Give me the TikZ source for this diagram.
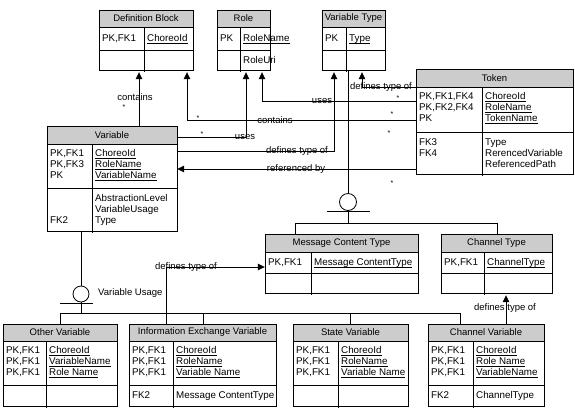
\documentclass[tikz,border=0pt]{standalone}
\usepackage{fontspec}
\setmainfont{Liberation Sans}
\usetikzlibrary{arrows.meta,fit}
\definecolor{hdrgray}{RGB}{204,204,204}
\newcommand\ulx[1]{\setbox0=\hbox{#1}\rlap{\rule[-1.6pt]{\wd0}{0.55pt}}\box0}
% #1 name, #2 x1, #3 y1, #4 x2, #5 yh, #6 yk, #7 y2, #8 xdiv, #9 title
\newcommand\ertable[9]{%
  \coordinate (#1-nw) at (#2,#3);
  \coordinate (#1-se) at (#4,#7);
  \fill[hdrgray] (#2,#3) rectangle (#4,#5);
  \draw[tline] (#2,#3) rectangle (#4,#7);
  \draw[tline] (#2,#5) -- (#4,#5);
  \draw[tline] (#2,#6) -- (#4,#6);
  \draw[tline] (#8,#5) -- (#8,{#7+2});
  \node[fit=(#1-nw)(#1-se), inner sep=0pt] (#1) {};
  \node[ttext] (#1-t) at ({(#2+#4)/2},{(#3+#5)/2}) {#9};
}
\newcommand\tcol[4]{\foreach \cellt [count=\ci from 0] in {#4} {\node[ctext] (#1-\ci) at (#2,{#3+11*\ci}) {\cellt};}}
\begin{document}
\begin{tikzpicture}[x=1pt,y=-1pt,
  tline/.style={line width=0.8pt},
  conn/.style={line width=0.8pt},
  fk/.style={conn,-{Triangle[width=6.5pt,length=7pt]}},
  gap/.style={shorten >=2pt},
  ttext/.style={font=\fontsize{9.5}{11}\selectfont, inner sep=0pt},
  ctext/.style={font=\fontsize{9.8}{11}\selectfont, inner sep=0pt, anchor=base west},
  lbl/.style={ttext},
  star/.style={font=\fontsize{7}{8}\selectfont, inner sep=0pt},
  catc/.style={circle, draw, line width=0.8pt, inner sep=0pt}]
\useasboundingbox (0,0) rectangle (575,408);

% ---- tables
\ertable{dblk}{99}{10}{193}{27}{50}{70}{144}{Definition Block}
\ertable{role}{217}{10}{270}{27}{50}{70}{240}{Role}
\ertable{vtype}{322}{10}{385}{27}{50}{70}{346}{Variable Type}
\ertable{tok}{416}{69}{573}{87}{132}{174}{482}{Token}
\ertable{var}{47}{126}{177}{144}{188}{231}{92}{Variable}
\ertable{mct}{265}{234}{418}{252}{273}{293}{311}{Message Content Type}
\ertable{chtype}{441}{234}{552}{252}{273}{293}{484}{Channel Type}
\ertable{other}{3}{324}{117}{341}{385}{406}{46}{Other Variable}
\ertable{infoex}{129}{324}{276}{341}{385}{406}{173}{Information Exchange Variable}
\ertable{state}{293}{324}{408}{341}{385}{406}{338}{State Variable}
\ertable{chvar}{428}{324}{544}{341}{385}{406}{473}{Channel Variable}

% ---- table texts
\tcol{dblk-k}{102}{41.7}{{PK,FK1}}
\tcol{dblk-a}{147}{41.7}{\ulx{ChoreoId}}
\tcol{role-k}{220}{41.7}{PK}
\tcol{role-a}{243}{41.7}{\ulx{RoleName}}
\tcol{role-b}{243}{63.2}{RoleUri}
\tcol{vtype-k}{325}{41.7}{PK}
\tcol{vtype-a}{349}{41.7}{\ulx{Type}}
\tcol{tok-k}{419}{99.5}{{PK,FK1,FK4},{PK,FK2,FK4},PK}
\tcol{tok-a}{485}{99.5}{\ulx{ChoreoId},\ulx{RoleName},\ulx{TokenName}}
\tcol{tok-k2}{419}{145.5}{FK3,FK4}
\tcol{tok-a2}{485}{145.5}{Type,RerencedVariable,ReferencedPath}
\tcol{var-k}{50}{156.5}{{PK,FK1},{PK,FK3},PK}
\tcol{var-a}{95}{156.5}{\ulx{ChoreoId},\ulx{RoleName},\ulx{VariableName}}
\tcol{var-a2}{95}{201.5}{AbstractionLevel,VariableUsage,Type}
\tcol{var-k2}{50}{223.5}{FK2}
\tcol{mct-k}{268}{265.7}{{PK,FK1}}
\tcol{mct-a}{314}{265.7}{\ulx{Message ContentType}}
\tcol{chtype-k}{444}{265.7}{{PK,FK1}}
\tcol{chtype-a}{487}{265.7}{\ulx{ChannelType}}
\tcol{other-k}{6}{353.5}{{PK,FK1},{PK,FK1},{PK,FK1}}
\tcol{other-a}{49}{353.5}{\ulx{ChoreoId},\ulx{VariableName},\ulx{Role Name}}
\tcol{infoex-k}{132}{353.5}{{PK,FK1},{PK,FK1},{PK,FK1}}
\tcol{infoex-a}{176}{353.5}{\ulx{ChoreoId},\ulx{RoleName},\ulx{Variable Name}}
\tcol{infoex-k2}{132}{398.7}{FK2}
\tcol{infoex-a2}{176}{398.7}{Message ContentType}
\tcol{state-k}{296}{353.5}{{PK,FK1},{PK,FK1},{PK,FK1}}
\tcol{state-a}{341}{353.5}{\ulx{ChoreoId},\ulx{RoleName},\ulx{Variable Name}}
\tcol{chvar-k}{431}{353.5}{{PK,FK1},{PK,FK1},{PK,FK1}}
\tcol{chvar-a}{476}{353.5}{\ulx{ChoreoId},\ulx{Role Name},\ulx{VariableName}}
\tcol{chvar-k2}{431}{398.7}{FK2}
\tcol{chvar-a2}{476}{398.7}{ChannelType}

% ---- relationship connectors
\coordinate (b1) at (139,0);
\draw[fk,gap] (b1 |- var.north) -- (b1 |- dblk.south);
\coordinate (b2) at (187,120);
\draw[fk,gap] (tok.west |- b2) -- (b2) -- (b2 |- dblk.south);
\coordinate (b3) at (246,137);
\draw[fk,gap] (var.east |- b3) -- (b3) -- (b3 |- role.south);
\coordinate (b4) at (262,101);
\draw[fk,gap] (tok.west |- b4) -- (b4) -- (b4 |- role.south);
\coordinate (b5) at (334,151);
\draw[fk,gap] (var.east |- b5) -- (b5) -- (b5 |- vtype.south);
\coordinate (b6) at (362,87);
\draw[fk,gap] (tok.west |- b6) -- (b6) -- (b6 |- vtype.south);
\coordinate (b7) at (0,169);
\draw[fk] (tok.west |- b7) -- (var.east |- b7);
\coordinate (b10) at (166,267);
\draw[fk] (b10 |- infoex.north) -- (b10) -- (mct.west |- b10);
\coordinate (b11) at (506,0);
\draw[fk,gap] (b11 |- chvar.north) -- (b11 |- chtype.south);

% ---- category (subtype) 1
\node[catc, minimum size=17pt] (cat1) at (348,202) {};
\draw[conn] (cat1 |- vtype.south) -- (cat1.north);
\coordinate (bar1l) at (327,211);
\coordinate (bar1r) at (370,211);
\draw[conn] (bar1l) -- (bar1r);
\coordinate (h1) at (348,223);
\draw[conn] (cat1.south) -- (h1);
\coordinate (h1l) at (295,223);
\coordinate (h1r) at (497,223);
\draw[conn] (h1l) -- (h1r);
\draw[conn] (h1l) -- (h1l |- mct.north);
\draw[conn] (h1r) -- (h1r |- chtype.north);

% ---- category (subtype) 2
\node[catc, minimum size=16pt] (cat2) at (81,294) {};
\draw[conn] (cat2 |- var.south) -- (cat2.north);
\coordinate (bar2l) at (60,303);
\coordinate (bar2r) at (93,303);
\draw[conn] (bar2l) -- (bar2r);
\coordinate (h2) at (81,313);
\draw[conn] (cat2.south) -- (h2);
\coordinate (h2l) at (60,313);
\coordinate (h2r) at (460,313);
\coordinate (h2b) at (203,313);
\coordinate (h2c) at (350,313);
\draw[conn] (h2l) -- (h2r);
\draw[conn] (h2l) -- (h2l |- other.north);
\draw[conn] (h2b) -- (h2b |- infoex.north);
\draw[conn] (h2c) -- (h2c |- state.north);
\draw[conn] (h2r) -- (h2r |- chvar.north);
\node[ttext, anchor=west] (vu) at (98,293) {Variable Usage};

% ---- connector labels
\node[lbl] (l1) at (135,97) {contains};
\node[lbl] (l2) at (275,120) {contains};
\node[lbl] (l3) at (245,137) {uses};
\node[lbl] (l4) at (322,101) {uses};
\node[lbl] (l5) at (297,151) {defines type of};
\node[lbl] (l6) at (381,87) {defines type of};
\node[lbl] (l7) at (296,169) {referenced by};
\node[lbl] (l10) at (186,267) {defines type of};
\node[lbl] (l11) at (505,308) {defines type of};

% ---- multiplicities
\node[star] (s1) at (124,107.5) {*};
\node[star] (s2a) at (198,118.5) {*};
\node[star] (s2b) at (392,114.5) {*};
\node[star] (s3) at (202,134.5) {*};
\node[star] (s4) at (398,98.5) {*};
\node[star] (s5) at (389,133.5) {*};
\node[star] (s7) at (392,183.5) {*};
\end{tikzpicture}
\end{document}
